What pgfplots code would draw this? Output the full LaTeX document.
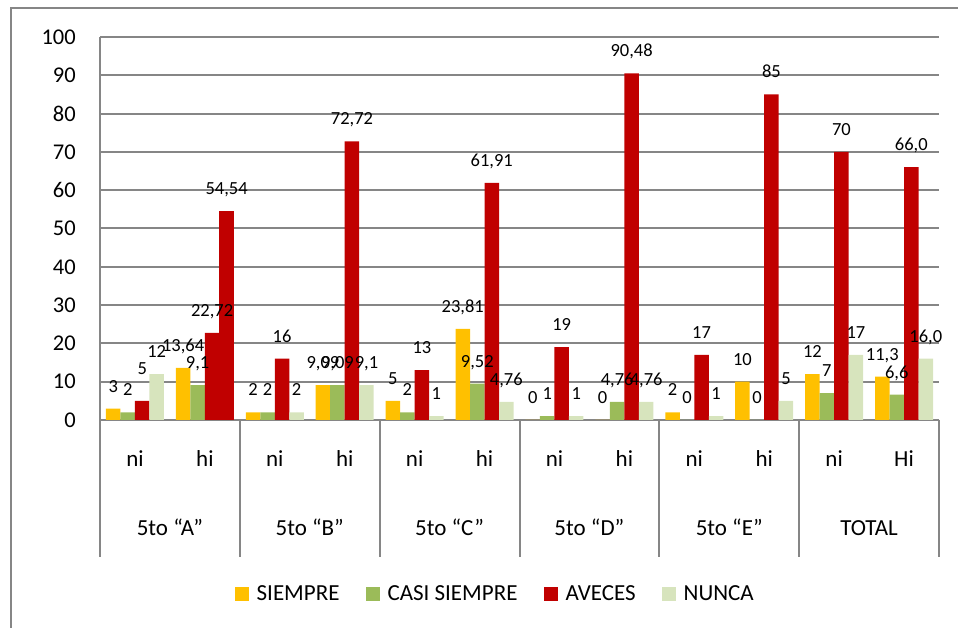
\documentclass[border=0pt]{standalone}
\usepackage{fontspec}
\setmainfont{Carlito}
\usepackage{pgfplots}
\pgfplotsset{compat=1.18}
\definecolor{siempre}{HTML}{FFC000}
\definecolor{casi}{HTML}{9BBB59}
\definecolor{aveces}{HTML}{C00000}
\definecolor{nunca}{HTML}{D7E4BD}
\definecolor{rejilla}{HTML}{868686}

\begin{document}
\begin{tikzpicture}[x=1pt,y=1pt]
\path[use as bounding box] (0,0) rectangle (958,628);
\draw[rejilla, line width=1.5pt] (11,-5) -- (11,620) -- (965,620);
\begin{axis}[
  at={(100pt,208pt)}, anchor=south west,
  scale only axis, width=839pt, height=383pt,
  ybar, bar width=14.5pt,
  xmin=-0.5, xmax=11.5, ymin=0, ymax=100,
  clip=false,
  ytick={0,10,...,100},
  xtick={0,...,11},
  xticklabels={ni,hi,ni,hi,ni,hi,ni,hi,ni,hi,ni,Hi},
  axis lines*=left,
  axis line style={draw=rejilla, line width=2pt},
  ymajorgrids, grid style={draw=rejilla, line width=2pt},
  major tick length=0pt, tick style={draw=none},
  /pgf/number format/assume math mode=true,
  yticklabel style={font=\fontsize{22.5}{27}\selectfont, anchor=east, inner sep=0pt, xshift=-24pt},
  xticklabel style={font=\fontsize{23}{27}\selectfont, anchor=base, inner sep=0pt, yshift=-47pt},
  point meta=explicit symbolic,
  nodes near coords,
  nodes near coords style={font=\fontsize{18.5}{22}\selectfont, anchor=base, inner sep=0pt, yshift=16.5pt},
  legend columns=-1,
  legend image code/.code={\path[draw=none, fill=none] (0pt,0pt) -- (20pt,0pt);\fill[#1, draw=none] (0pt,-7pt) rectangle (14pt,7pt);},
  legend style={at={(0.471,-0.454)}, anchor=center, draw=none,
    font=\fontsize{23}{27}\selectfont,
    /tikz/every even column/.append style={column sep=24pt}},
]
% SIEMPRE
\addplot[fill=siempre, draw=none, bar shift=-21.75pt, forget plot] coordinates {
  (0,3) [3] (1,13.64) [{13,64}] (2,2) [2] (3,9.09) [{9,09}]
  (4,5) [5] (5,23.81) [{23,81}] (6,0) [0] (7,0) [0]
  (8,2) [2] (9,10) [10] (10,12) [12] (11,11.3) [{11,3}]
};
% CASI SIEMPRE
\addplot[fill=casi, draw=none, bar shift=-7.25pt, forget plot] coordinates {
  (0,2) [2] (1,9.1) [{9,1}] (2,2) [2] (3,9.09) [{9,09}]
  (4,2) [2] (5,9.52) [{9,52}] (6,1) [1] (7,4.76) [{4,76}]
  (8,0) [0] (9,0) [0] (10,7) [7] (11,6.6) [{6,6}]
};
% AVECES
\addplot[fill=aveces, draw=none, bar shift=7.25pt, forget plot] coordinates {
  (0,5) [\raisebox{10pt}{5}] (1,22.72) [{22,72}] (2,16) [16] (3,72.72) [{72,72}]
  (4,13) [13] (5,61.91) [{61,91}] (6,19) [19] (7,90.48) [{90,48}]
  (8,17) [17] (9,85) [85] (10,70) [70] (11,66.0) [{66,0}]
};
% NUNCA
\addplot[fill=nunca, draw=none, bar shift=21.75pt, forget plot] coordinates {
  (0,12) [12] (2,2) [2] (3,9.1) [{9,1}]
  (4,1) [1] (5,4.76) [{4,76}] (6,1) [1] (7,4.76) [{4,76}]
  (8,1) [1] (9,5) [5] (10,17) [17] (11,16.0) [{16,0}]
};
% 5to A hi, cuarta barra en rojo
\addplot[fill=aveces, draw=none, bar shift=21.75pt, forget plot] coordinates {
  (1,54.54) [{54,54}]
};
\addlegendimage{fill=siempre}
\addlegendentry{SIEMPRE}
\addlegendimage{fill=casi}
\addlegendentry{CASI SIEMPRE}
\addlegendimage{fill=aveces}
\addlegendentry{AVECES}
\addlegendimage{fill=nunca}
\addlegendentry{NUNCA}
% separadores de grupos
\pgfplotsinvokeforeach{-0.5,1.5,3.5,5.5,7.5,9.5,11.5}{
  \draw[rejilla, line width=2pt] (axis cs:#1,0) -- ++(0pt,-137pt);
}
\node[font=\fontsize{23}{27}\selectfont, anchor=base] at ([yshift=-116pt]axis cs:0.5,0) {5to “A”};
\node[font=\fontsize{23}{27}\selectfont, anchor=base] at ([yshift=-116pt]axis cs:2.5,0) {5to “B”};
\node[font=\fontsize{23}{27}\selectfont, anchor=base] at ([yshift=-116pt]axis cs:4.5,0) {5to “C”};
\node[font=\fontsize{23}{27}\selectfont, anchor=base] at ([yshift=-116pt]axis cs:6.5,0) {5to “D”};
\node[font=\fontsize{23}{27}\selectfont, anchor=base] at ([yshift=-116pt]axis cs:8.5,0) {5to “E”};
\node[font=\fontsize{23}{27}\selectfont, anchor=base] at ([yshift=-116pt]axis cs:10.5,0) {TOTAL};
\end{axis}
\end{tikzpicture}
\end{document}
